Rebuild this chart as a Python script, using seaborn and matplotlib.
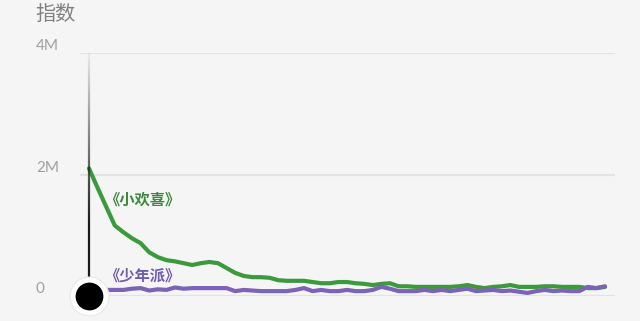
import numpy as np
import pandas as pd
import matplotlib
matplotlib.use("Agg")
import matplotlib.pyplot as plt
import matplotlib.transforms as mtransforms
from matplotlib.collections import LineCollection
import seaborn as sns

# ---- data ----
days = list(range(61))
xiaohuanxi = [2.10, 1.78, 1.47, 1.16, 1.05, 0.95, 0.87, 0.72, 0.64, 0.59,
              0.57, 0.54, 0.51, 0.54, 0.56, 0.54, 0.46, 0.38, 0.33, 0.31,
              0.31, 0.30, 0.26, 0.25, 0.25, 0.25, 0.23, 0.21, 0.21, 0.23,
              0.23, 0.21, 0.20, 0.18, 0.20, 0.21, 0.16, 0.16, 0.15, 0.15,
              0.15, 0.15, 0.15, 0.16, 0.18, 0.15, 0.13, 0.15, 0.16, 0.18,
              0.15, 0.15, 0.15, 0.16, 0.16, 0.15, 0.15, 0.15, 0.13, 0.13, 0.15]
shaonianpai = [0.10, 0.10, 0.10, 0.10, 0.10, 0.12, 0.13, 0.09, 0.11, 0.10,
               0.14, 0.12, 0.13, 0.13, 0.13, 0.13, 0.13, 0.08, 0.10, 0.09,
               0.08, 0.08, 0.08, 0.08, 0.10, 0.13, 0.08, 0.10, 0.08, 0.08,
               0.10, 0.08, 0.08, 0.10, 0.15, 0.12, 0.08, 0.08, 0.08, 0.10,
               0.08, 0.10, 0.08, 0.10, 0.12, 0.08, 0.09, 0.10, 0.08, 0.09,
               0.07, 0.05, 0.08, 0.10, 0.08, 0.09, 0.08, 0.08, 0.15, 0.13, 0.16]
series_names = ["《小欢喜》", "《少年派》"]
y_ticks = [0, 2_000_000, 4_000_000]
y_tick_labels = ["0", "2M", "4M"]
x_ticks = [20, 40, 60]
title = "指数"

colors = ["#3a9a3c", "#7b63b6"]
label_colors = ["#3a8a3a", "#6e5cae"]

df = pd.DataFrame({
    "day": days * 2,
    "value": [v * 1e6 for v in xiaohuanxi] + [v * 1e6 for v in shaonianpai],
    "series": [series_names[0]] * len(days) + [series_names[1]] * len(days),
})

sns.set_theme(style="white")
plt.rcParams["font.family"] = ["Noto Sans CJK SC", "DejaVu Sans"]

bg = "#f5f5f5"
fig = plt.figure(figsize=(6.4, 3.21), dpi=100, facecolor=bg)
ax = fig.add_axes([80 / 640, 25 / 321, 535 / 640, 243 / 321])
ax.set_facecolor(bg)

px_per_day = 516 / 60
ax.set_xlim(days[0] - 9 / px_per_day, days[-1] + 10 / px_per_day)
ax.set_ylim(0, 4_000_000)

for yt in y_ticks:
    ax.axhline(yt, color="#e3e3e3", lw=1.6, zorder=0)

sns.lineplot(data=df, x="day", y="value", hue="series", palette=colors,
             linewidth=3.0, legend=False, ax=ax, zorder=3)

for s in ax.spines.values():
    s.set_visible(False)

ax.set_xticks(x_ticks)
ax.set_xticklabels([])
ax.tick_params(axis="x", length=17, width=1.0, color="#dedede", direction="out", pad=0)
ax.set_yticks([])
ax.set_xlabel("")
ax.set_ylabel("")

# y tick labels (left aligned, sitting on their gridlines)
trans = mtransforms.blended_transform_factory(fig.transFigure, ax.transData)
for yt, lab in zip(y_ticks, y_tick_labels):
    ax.text(36 / 640, yt, lab, transform=trans, ha="left", va="bottom",
            fontsize=11, color="#a0a0a0", family=["Lato", "DejaVu Sans"])

fig.text(35 / 640, 1 - 14 / 321, title, ha="left", va="center",
         fontsize=14.5, color="#808080")

# vertical guide line with gradient
x0 = days[0]
ys = np.linspace(0, y_ticks[-1], 80)
segs = [[(x0, ys[i]), (x0, ys[i + 1])] for i in range(len(ys) - 1)]
alphas = np.clip(np.linspace(1.4, 0.05, len(segs)), 0, 1)
cols = [(0.1, 0.1, 0.1, a) for a in alphas]
lc = LineCollection(segs, colors=cols, linewidths=1.6, zorder=4)
ax.add_collection(lc)

# marker at origin
ax.plot([x0], [0], "o", ms=28, color="white", mec="#e8e8e8", mew=0.8,
        clip_on=False, zorder=6)
ax.plot([x0], [0], "o", ms=19, color="black", clip_on=False, zorder=7)

# series labels
ax.text(1.8, 1.59e6, series_names[0], color=label_colors[0], fontsize=11,
        fontweight="bold", ha="left", va="center", zorder=8)
ax.text(1.8, 0.33e6, series_names[1], color=label_colors[1], fontsize=11,
        fontweight="bold", ha="left", va="center", zorder=8)

fig.savefig("out.png", dpi=100, facecolor=bg)
